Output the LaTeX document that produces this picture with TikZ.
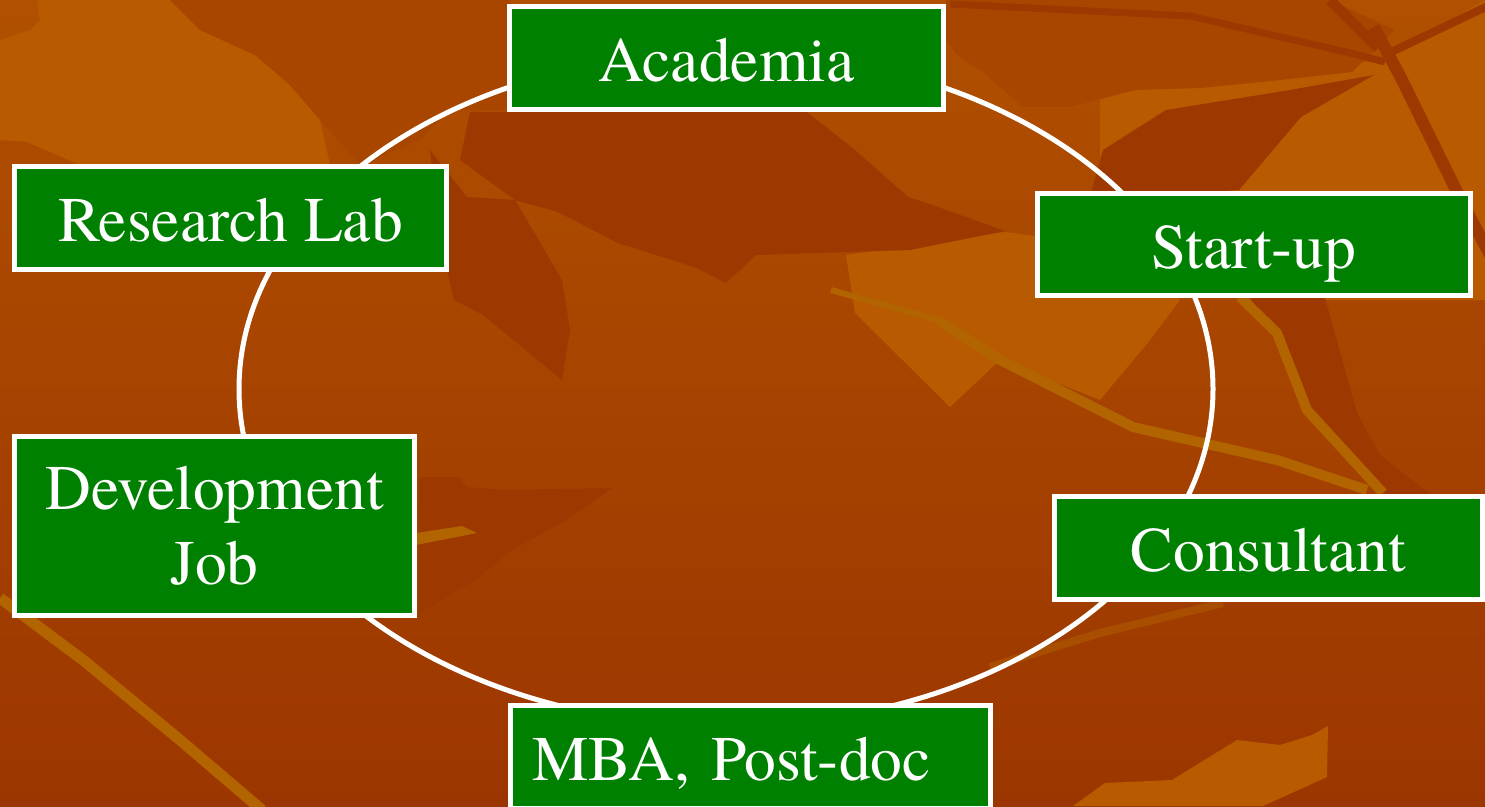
\documentclass[tikz,border=0pt]{standalone}
\usepackage{fontspec}
\setmainfont{TeX Gyre Termes}
\definecolor{boxgreen}{RGB}{0,128,0}
\definecolor{bgtop}{RGB}{176,80,0}
\definecolor{bgbot}{RGB}{156,54,0}
\definecolor{leafdark}{RGB}{156,56,0}
\definecolor{leafmid}{RGB}{168,70,0}
\definecolor{leaflight}{RGB}{184,90,0}
\definecolor{vein}{RGB}{178,100,0}
\definecolor{veindim}{RGB}{168,78,0}
\begin{document}
\begin{tikzpicture}[x=1pt,y=-1pt,
  career/.style={draw=white, line width=5pt, fill=boxgreen, text=white,
    font=\fontsize{63.5}{75}\selectfont, inner sep=0pt},
  oneline/.style={career, text height=47pt, text depth=0pt},
  ring/.style={draw=white, line width=5pt},
  darkleaf/.style={fill=leafdark},
  midleaf/.style={fill=leafmid},
  lightleaf/.style={fill=leaflight},
  veinline/.style={draw=vein, line width=#1, line join=round},
  branch/.style={draw=leafdark, line width=#1, line join=round}
]
\useasboundingbox (0,0) rectangle (1485,806);
% background
\shade[top color=bgtop, bottom color=bgbot] (0,0) rectangle (1485,806);
\fill[lightleaf] (0,40) -- (30,30) -- (40,20) -- (37,0) -- (170,0) -- (200,30) -- (255,55) -- (290,85) -- (320,120) -- (330,165) -- (80,165) -- (27,142) -- (0,140) -- cycle;
\fill[midleaf] (240,0) -- (510,0) -- (510,110) -- (450,110) -- (420,140) -- (360,165) -- (320,120) -- (290,85) -- (255,55) -- (200,30) -- (170,0) -- cycle;
\fill[lightleaf] (1100,95) -- (1380,60) -- (1485,0) -- (1485,300) -- (1240,300) -- (1100,200) -- cycle;
\fill[midleaf] (946,0) -- (1330,0) -- (1395,30) -- (1352,72) -- (1280,80) -- (1200,88) -- (1135,90) -- (1070,107) -- (1023,107) -- (984,73) -- (957,55) -- (946,40) -- cycle;
\fill[darkleaf] (1089,200) -- (1103,150) -- (1166,110) -- (1290,90) -- (1374,75) -- (1301,117) -- (1239,190) -- cycle;
\draw[branch=12] (1374,27) -- (1402,80) -- (1461,200) -- (1490,255);
\draw[branch=7] (950,4) -- (1190,16) -- (1346,52) -- (1385,62);
\draw[branch=10] (1330,0) -- (1378,48);
\draw[branch=8] (1490,5) -- (1385,55);
\fill[lightleaf] (846,255) -- (1005,232) -- (1110,245) -- (1180,300) -- (1150,340) -- (1100,400) -- (1000,360) -- (950,407) -- (855,313) -- cycle;
\fill[darkleaf] (470,112) -- (807,112) -- (855,150) -- (908,197) -- (938,207) -- (1005,231) -- (910,250) -- (756,255) -- (726,283) -- (697,268) -- (618,243) -- (558,212) -- (515,200) -- (460,160) -- cycle;
\fill[darkleaf] (430,150) -- (467,197) -- (515,200) -- (562,280) -- (570,330) -- (562,380) -- (483,315) -- (454,300) -- (440,240) -- cycle;
\fill[darkleaf] (1250,298) -- (1325,298) -- (1357,413) -- (1380,455) -- (1430,494) -- (1383,494) -- (1307,410) -- (1277,333) -- cycle;
\fill[darkleaf] (419,477) -- (459,477) -- (467,487) -- (505,490) -- (612,488) -- (567,520) -- (515,548) -- (475,580) -- (419,613) -- cycle;
\fill[lightleaf] (1073,806) -- (1105,783) -- (1172,780) -- (1237,740) -- (1280,745) -- (1312,735) -- (1328,726) -- (1327,777) -- (1263,806) -- cycle;
\draw[veinline=6] (831,290) -- (938,320);
\draw[veinline=10] (938,320) -- (1000,360) -- (1133,427) -- (1277,460) -- (1367,490);
\draw[veinline=10] (1240,297) -- (1277,333) -- (1307,410) -- (1383,493);
\draw[veinline=11] (0,598) -- (83,660) -- (180,740) -- (262,810);
\fill[vein] (416,533) -- (462,526) -- (477,533) -- (416,545) -- cycle;
\draw[draw=veindim, line width=8pt] (990,667) -- (1100,633) -- (1223,603);
% ring
\coordinate (hub) at (726,389);
\draw[ring] (hub) ellipse [x radius=487pt, y radius=337pt];
% nodes
\node[oneline, minimum width=434pt, minimum height=103pt] (academia) at (726.5,58) {Academia};
\node[oneline, minimum width=432pt, minimum height=103pt] (research) at (230.5,218) {Research Lab};
\node[oneline, minimum width=433pt, minimum height=102pt] (startup) at (1254,244.5) {Start-up};
\node[career, align=center, minimum width=400pt, minimum height=179pt] (devjob) at (214.5,526) {Development\\Job};
\node[oneline, minimum width=428pt, minimum height=103pt] (consult) at (1268.5,548) {Consultant};
\node[oneline, text width=436pt, align=left, inner xsep=22pt, minimum height=103pt] (mba) at (750.5,757) {MBA, Post-doc};
\end{tikzpicture}
\end{document}
